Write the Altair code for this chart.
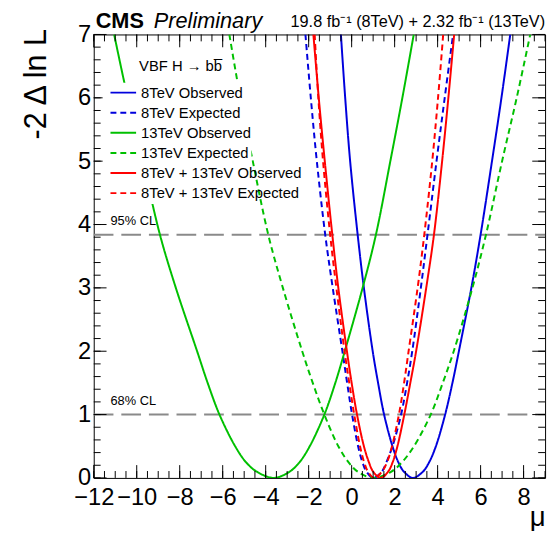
import altair as alt
import pandas as pd
import numpy as np

FONT = "Liberation Sans"

# ---------------- data ----------------
x_tick_labels = [-12, -10, -8, -6, -4, -2, 0, 2, 4, 6, 8]
y_tick_labels = [0, 1, 2, 3, 4, 5, 6, 7]

series_names = [
    "8TeV Observed",
    "8TeV Expected",
    "13TeV Observed",
    "13TeV Expected",
    "8TeV + 13TeV Observed",
    "8TeV + 13TeV Expected",
]
series_colors = ["#0000dd", "#0000dd", "#00c000", "#00c000", "#ff0000", "#ff0000"]
series_dashed = [False, True, False, True, False, True]

# -2 delta lnL levels at which the curves were read (left branch, minimum, right branch)
lv = [7.0, 6.0, 5.0, 3.84, 3.0, 2.0, 1.5, 1.0, 0.5, 0.25, 0.1, 0.0,
      0.1, 0.25, 0.5, 1.0, 1.5, 2.0, 3.0, 3.84, 5.0, 6.0, 7.0]

# mu read at each level
mu_8obs = [-0.50, -0.30, -0.07, 0.28, 0.57, 0.98, 1.23, 1.51, 1.90, 2.17, 2.43, 2.85,
           3.32, 3.61, 3.92, 4.35, 4.69, 4.99, 5.57, 6.00, 6.53, 6.97, 7.38]
mu_8exp = [-2.15, -1.90, -1.62, -1.23, -0.88, -0.43, -0.21, 0.02, 0.30, 0.50, 0.69, 1.00,
           1.41, 1.62, 1.90, 2.30, 2.58, 2.82, 3.22, 3.53, 3.95, 4.33, 4.72]
mu_13obs = [-11.05, -10.42, -9.72, -8.92, -8.18, -7.19, -6.70, -6.15, -5.42, -4.92, -4.42, -3.62,
            -2.88, -2.42, -1.95, -1.27, -0.76, -0.32, 0.51, 1.13, 1.80, 2.36, 2.89]
mu_13exp = [-5.69, -5.18, -4.60, -3.88, -3.20, -2.30, -1.81, -1.27, -0.62, -0.15, 0.28, 1.00,
            1.85, 2.35, 2.90, 3.68, 4.24, 4.75, 5.62, 6.25, 7.00, 7.68, 8.31]
mu_cobs = [-1.78, -1.53, -1.25, -0.90, -0.62, -0.22, 0.00, 0.25, 0.57, 0.80, 1.00, 1.35,
           1.70, 1.91, 2.13, 2.45, 2.73, 3.00, 3.47, 3.83, 4.21, 4.50, 4.77]
mu_cexp = [-1.72, -1.55, -1.33, -1.00, -0.71, -0.33, -0.11, 0.12, 0.39, 0.58, 0.76, 1.05,
           1.41, 1.65, 1.88, 2.20, 2.44, 2.65, 3.07, 3.38, 3.75, 4.02, 4.26]

cl_levels = [3.84, 1.0]
cl_labels = ["95% CL", "68% CL"]

legend_header = "VBF H \u2192 bb\u0305"
lumi_text = "19.8 fb\u207b\u00b9 (8TeV) + 2.32 fb\u207b\u00b9 (13TeV)"

# ---------------- build table ----------------
all_mu = [mu_8obs, mu_8exp, mu_13obs, mu_13exp, mu_cobs, mu_cexp]
rows = []
for name, mus in zip(series_names, all_mu):
    for m, v in zip(mus, lv):
        rows.append({"series": name, "mu": m, "nll": v})
df = pd.DataFrame(rows)

W, H = 458, 450
XMIN, XMAX, YMIN, YMAX = -12, 9, 0, 7
xs = alt.Scale(domain=[XMIN, XMAX], nice=False, zero=False)
ys = alt.Scale(domain=[YMIN, YMAX], nice=False, zero=False)
DASH = [6, 4]
dash_range = [DASH if d else [1, 0] for d in series_dashed]

x_axis = alt.Axis(
    values=x_tick_labels, ticks=False, tickSize=0, domain=False, grid=False,
    labelFont=FONT, labelFontSize=24, labelColor="black", labelPadding=8,
    labelFlush=False, labelOverlap=False, labelBound=False,
    title="\u03bc", titleFont=FONT, titleFontSize=28, titleFontWeight="normal",
    titleColor="black", titleX=W, titleY=48, titleAlign="right", titleBaseline="alphabetic",
)
y_axis = alt.Axis(
    values=y_tick_labels, ticks=False, tickSize=0, domain=False, grid=False,
    labelFont=FONT, labelFontSize=24, labelColor="black", labelPadding=3,
    labelFlush=False, labelOverlap=False, labelBound=False,
    title="-2 \u0394 ln L", titleFont=FONT, titleFontSize=31, titleFontWeight="normal",
    titleColor="black", titleAngle=270, titleX=-49, titleY=-6, titleAlign="right",
    titleBaseline="alphabetic",
)

dummy = pd.DataFrame({"k": [0]})

# CL lines
cl_df = pd.DataFrame({"lvl": cl_levels, "lab": cl_labels})
cl_lines = alt.Chart(cl_df).mark_rule(color="#8a8a8a", strokeWidth=2, strokeDash=[20, 8]).encode(
    y=alt.Y("lvl:Q", scale=ys, axis=y_axis), x=alt.value(0), x2=alt.value(W)
)
cl_text = alt.Chart(cl_df).mark_text(align="left", baseline="middle", dy=-14, font=FONT, fontSize=13, color="black").encode(
    y=alt.Y("lvl:Q", scale=ys, axis=y_axis), x=alt.value(17), text="lab:N"
)

curves = alt.Chart(df).mark_line(strokeWidth=2, interpolate="catmull-rom", clip=True).encode(
    x=alt.X("mu:Q", scale=xs, axis=x_axis),
    y=alt.Y("nll:Q", scale=ys, axis=y_axis),
    color=alt.Color("series:N", scale=alt.Scale(domain=series_names, range=series_colors), legend=None),
    strokeDash=alt.StrokeDash("series:N", scale=alt.Scale(domain=series_names, range=dash_range), legend=None),
)

# inward ticks on all four sides
x_major = pd.DataFrame({"v": np.arange(XMIN, XMAX + 0.001, 2.0)})
x_minor = pd.DataFrame({"v": np.arange(XMIN, XMAX + 0.001, 0.5)})
y_major = pd.DataFrame({"v": np.arange(YMIN, YMAX + 0.001, 1.0)})
y_minor = pd.DataFrame({"v": np.arange(YMIN, YMAX + 0.001, 0.2)})

tick_layers = []
for tdf, L in [(x_major, 13), (x_minor, 7)]:
    tick_layers.append(alt.Chart(tdf).mark_rule(color="black", strokeWidth=1).encode(
        x=alt.X("v:Q", scale=xs, axis=x_axis), y=alt.value(H), y2=alt.value(H - L)))
    tick_layers.append(alt.Chart(tdf).mark_rule(color="black", strokeWidth=1).encode(
        x=alt.X("v:Q", scale=xs, axis=x_axis), y=alt.value(0), y2=alt.value(L)))
for tdf, L in [(y_major, 13), (y_minor, 7)]:
    tick_layers.append(alt.Chart(tdf).mark_rule(color="black", strokeWidth=1).encode(
        y=alt.Y("v:Q", scale=ys, axis=y_axis), x=alt.value(0), x2=alt.value(L)))
    tick_layers.append(alt.Chart(tdf).mark_rule(color="black", strokeWidth=1).encode(
        y=alt.Y("v:Q", scale=ys, axis=y_axis), x=alt.value(W), x2=alt.value(W - L)))

# legend box
legend_layers = []
legend_layers.append(alt.Chart(dummy).mark_rect(color="white").encode(
    x=alt.value(9), x2=alt.value(160), y=alt.value(49), y2=alt.value(172)))
legend_layers.append(alt.Chart(dummy).mark_text(align="left", baseline="middle", font=FONT, fontSize=15, color="black", text=legend_header).encode(
    x=alt.value(46), y=alt.value(32)))
for i, (name, col, d) in enumerate(zip(series_names, series_colors, series_dashed)):
    yc = 59 + 20.4 * i
    legend_layers.append(alt.Chart(dummy).mark_rule(strokeWidth=2, color=col, strokeDash=(DASH if d else [1, 0])).encode(
        x=alt.value(17), x2=alt.value(43), y=alt.value(yc)))
    legend_layers.append(alt.Chart(dummy).mark_text(align="left", baseline="middle", font=FONT, fontSize=15, color="black", text=name).encode(
        x=alt.value(48), y=alt.value(yc)))

# header texts
title_layers = [
    alt.Chart(dummy).mark_text(align="left", baseline="alphabetic", font=FONT, fontSize=22, fontWeight="bold", color="black", text="CMS").encode(
        x=alt.value(2), y=alt.value(-7)),
    alt.Chart(dummy).mark_text(align="left", baseline="alphabetic", font=FONT, fontSize=22, fontStyle="italic", color="black", text="Preliminary").encode(
        x=alt.value(61), y=alt.value(-7)),
    alt.Chart(dummy).mark_text(align="right", baseline="alphabetic", font=FONT, fontSize=16.5, color="black", text=lumi_text).encode(
        x=alt.value(W), y=alt.value(-8)),
]

chart = alt.layer(
    cl_lines, curves, *tick_layers, *legend_layers, cl_text, *title_layers
).properties(
    width=W, height=H,
    autosize=alt.AutoSizeParams(type="none"),
    padding={"left": 87, "top": 23, "right": 5, "bottom": 50},
).configure_view(stroke="black", strokeWidth=1)

chart.save("out.html", embed_options={"renderer": "svg", "actions": False})
